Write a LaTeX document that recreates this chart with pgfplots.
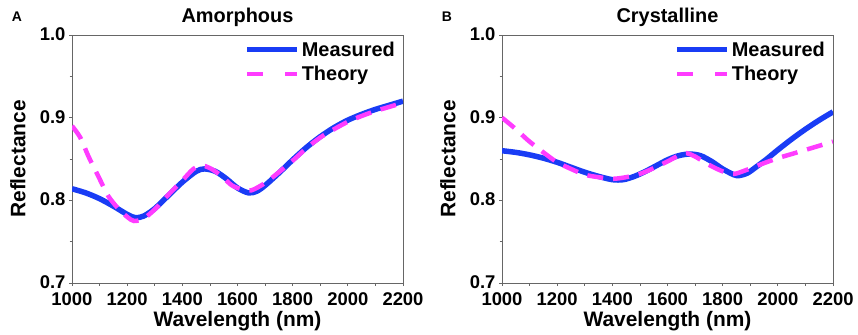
\documentclass[border=0pt]{standalone}
\usepackage{pgfplots}
\pgfplotsset{compat=1.18}
\usepackage{fontspec}
\setmainfont{Liberation Sans}
\definecolor{meas}{RGB}{25,60,245}
\definecolor{theo}{RGB}{255,60,255}
\pgfplotsset{
  panel/.style={
    scale only axis, width=331bp, height=248bp,
    xmin=1000, xmax=2200, ymin=0.7, ymax=1.0,
    xtick={1000,1200,...,2200}, ytick={0.7,0.8,0.9,1.0},
    minor x tick num=1, minor y tick num=1,
    tick align=outside, xtick pos=bottom, ytick pos=left,
    major tick length=3bp, minor tick length=2.5bp,
    every tick/.style={black!60, line width=0.8bp},
    axis line style={black!60, line width=1bp},
    /pgf/number format/assume math mode=true,
    yticklabel style={/pgf/number format/fixed, /pgf/number format/fixed zerofill, /pgf/number format/precision=1, yshift=1bp},
    xticklabel style={/pgf/number format/1000 sep={}, yshift=-3bp},
    ticklabel style={font=\fontsize{18.5}{20}\selectfont\bfseries},
    label style={font=\fontsize{21}{22}\selectfont\bfseries},
    title style={font=\fontsize{20}{22}\selectfont\bfseries, at={(axis description cs:0.5,1)}, anchor=center, yshift=12bp},
    xlabel={Wavelength (nm)}, ylabel={Reflectance},
    xlabel style={at={(axis description cs:0.5,0)}, anchor=center, yshift=-38bp},
    ylabel style={at={(axis description cs:0,0.5)}, anchor=center, yshift=54bp},
    legend style={draw=none, fill=none, at={(rel axis cs:0.985,0.985)}, anchor=north east,
      font=\fontsize{20}{22}\selectfont\bfseries, row sep=4bp, inner sep=1bp},
    legend cell align=left,
  },
  measured/.style={meas, line width=5.5bp, smooth},
  theory/.style={theo, line width=4.5bp, smooth, dash pattern=on 16bp off 10bp},
}
\begin{document}
\begin{tikzpicture}
\path[use as bounding box] (-72bp,-52bp) rectangle (786bp,283bp);
\begin{axis}[panel, title={Amorphous}, name=a]
\addplot[measured, legend image code/.code={\draw[meas,line width=5bp] (0bp,0bp) -- (50bp,0bp);}] coordinates {
(1000,0.814)(1050,0.809)(1100,0.802)(1150,0.793)(1200,0.783)(1230,0.779)(1260,0.781)(1300,0.790)(1350,0.806)(1400,0.822)(1450,0.835)(1480,0.838)(1520,0.835)(1560,0.826)(1600,0.815)(1640,0.809)(1670,0.811)(1700,0.818)(1750,0.833)(1800,0.849)(1850,0.864)(1900,0.877)(1950,0.888)(2000,0.897)(2050,0.904)(2100,0.910)(2150,0.915)(2200,0.920)};
\addlegendentry{Measured}
\addplot[theory, legend image code/.code={\draw[theo,line width=4.5bp] (0bp,0bp) -- (19bp,0bp) (38bp,0bp) -- (50bp,0bp);}] coordinates {
(1000,0.890)(1030,0.876)(1060,0.853)(1100,0.826)(1130,0.806)(1165,0.791)(1200,0.780)(1225,0.775)(1260,0.778)(1300,0.789)(1350,0.807)(1400,0.824)(1440,0.838)(1470,0.842)(1500,0.839)(1540,0.830)(1580,0.818)(1620,0.813)(1650,0.812)(1700,0.821)(1750,0.834)(1800,0.848)(1850,0.863)(1900,0.876)(1950,0.886)(2000,0.895)(2050,0.902)(2100,0.908)(2150,0.913)(2200,0.918)};
\addlegendentry{Theory}
\end{axis}
\node[font=\fontsize{14}{15}\selectfont\bfseries] at (-55bp,266bp) {A};
\begin{axis}[panel, title={Crystalline}, xshift=430bp]
\addplot[measured, legend image code/.code={\draw[meas,line width=5bp] (0bp,0bp) -- (50bp,0bp);}] coordinates {
(1000,0.860)(1050,0.858)(1100,0.855)(1150,0.851)(1200,0.846)(1250,0.840)(1300,0.834)(1350,0.829)(1400,0.825)(1440,0.825)(1480,0.829)(1520,0.835)(1560,0.842)(1600,0.849)(1640,0.854)(1680,0.856)(1720,0.854)(1760,0.847)(1800,0.838)(1840,0.831)(1860,0.830)(1890,0.833)(1920,0.840)(1960,0.850)(2000,0.861)(2050,0.874)(2100,0.886)(2150,0.897)(2200,0.907)};
\addlegendentry{Measured}
\addplot[theory, legend image code/.code={\draw[theo,line width=4.5bp] (0bp,0bp) -- (19bp,0bp) (38bp,0bp) -- (50bp,0bp);}] coordinates {
(1000,0.900)(1040,0.889)(1070,0.880)(1100,0.871)(1150,0.858)(1200,0.846)(1250,0.838)(1300,0.831)(1350,0.828)(1400,0.826)(1450,0.828)(1500,0.832)(1550,0.839)(1600,0.847)(1650,0.856)(1670,0.857)(1700,0.853)(1750,0.843)(1800,0.835)(1840,0.832)(1880,0.836)(1950,0.845)(2000,0.851)(2050,0.856)(2100,0.861)(2150,0.866)(2200,0.871)};
\addlegendentry{Theory}
\end{axis}
\node[font=\fontsize{14}{15}\selectfont\bfseries] at (375bp,266bp) {B};
\end{tikzpicture}
\end{document}
